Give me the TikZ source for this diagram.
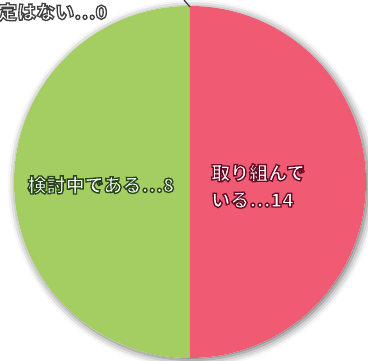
\documentclass[tikz,border=0pt]{standalone}
\usepackage{fontspec}
\newfontfamily\jpfont[BoldFeatures={FakeBold=7}]{Noto Sans CJK JP}
\usepackage{xcolor}
\usetikzlibrary{shadows.blur}

\definecolor{pieGreen}{RGB}{165,206,98}
\definecolor{pieRed}{RGB}{240,90,115}
\definecolor{glowGray}{RGB}{60,60,60}
% white fill, dark stroke round the letters
\newcommand{\glowtext}[2]{\special{pdf:bc [1 1 1] [#1]}#2\special{pdf:ec}}

\begin{document}
\begin{tikzpicture}[x=1pt, y=-1pt,
    slice/.style={draw=none},
    leader/.style={draw=glowGray, line width=1.3pt},
    label/.style={font=\jpfont\bfseries\fontsize{19}{27}\selectfont, text=white, align=left, inner sep=0pt}]
    \useasboundingbox (0,0) rectangle (368,361);

    % Pie
    \coordinate (c) at (190,182);
    \fill[white, blur shadow={shadow xshift=2pt, shadow yshift=-2pt, shadow blur radius=8pt, shadow opacity=60}] (c) circle (176pt);
    \fill[slice, pieGreen] (c) -- ++(90:176pt) arc (90:270:176pt) -- cycle;
    \fill[slice, pieRed] (c) -- ++(-90:176pt) arc (-90:90:176pt) -- cycle;

    % Leader to the zero slice
    \coordinate (leadtop) at (184,0);
    \coordinate (leadend) at (190,7);
    \draw[leader] (leadtop) -- (leadend);

    % Labels
    \node[label, anchor=west] (yotei) at (-2,12) {\glowtext{0.25 0.25 0.25}{定はない…0}};
    \node[label] (kentou) at (101,185) {\glowtext{0.15 0.27 0.1}{検討中である…8}};
    \node[label, anchor=west] (torikumi) at (211,186) {\glowtext{0.4 0.05 0.15}{取り組んで}\\\glowtext{0.4 0.05 0.15}{いる…14}};
\end{tikzpicture}
\end{document}
